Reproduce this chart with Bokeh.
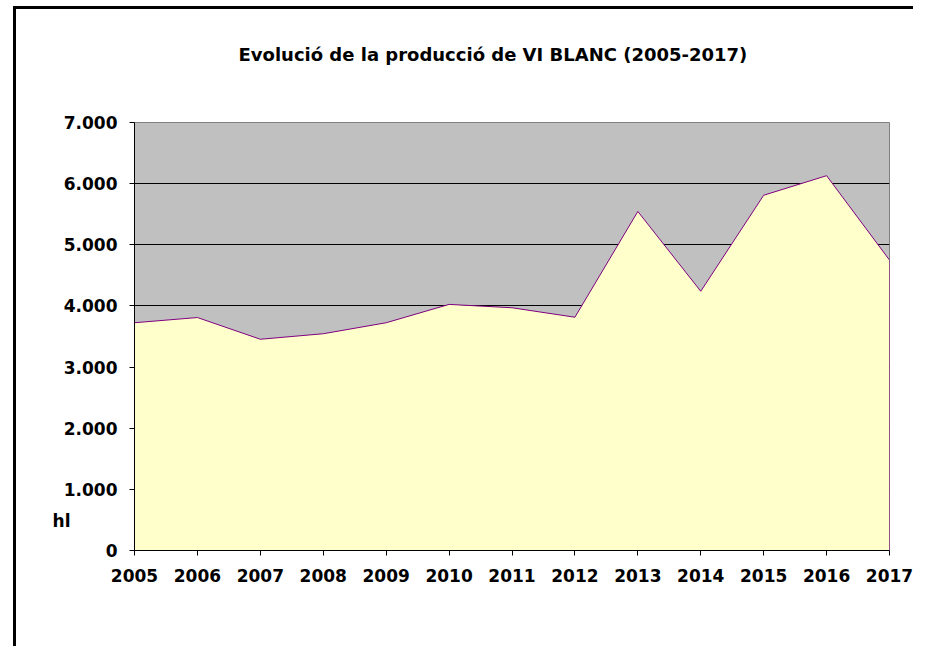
from bokeh.plotting import figure
from bokeh.models import Range1d, FixedTicker, LinearAxis, Title
from bokeh.embed import file_html
from bokeh.resources import INLINE

years = [2005, 2006, 2007, 2008, 2009, 2010, 2011, 2012, 2013, 2014, 2015, 2016, 2017]
production_hl = [3725, 3810, 3455, 3545, 3725, 4025, 3970, 3815, 5545, 4240, 5810, 6130, 4750]
y_ticks = [0, 1000, 2000, 3000, 4000, 5000, 6000, 7000]
y_tick_labels = ["0", "1.000", "2.000", "3.000", "4.000", "5.000", "6.000", "7.000"]
title_text = "Evolució de la producció de VI BLANC (2005-2017)"
unit_text = "hl"
unit_label_at = 480

W, H = 900, 640
p = figure(width=W, height=H, output_backend="svg", toolbar_location=None,
           x_range=Range1d(years[0], years[-1]), y_range=Range1d(y_ticks[0], y_ticks[-1]),
           min_border_left=118, min_border_right=W - 118 - 755, min_border_top=113,
           min_border_bottom=H - 113 - 428)
p.styles = {"margin-left": "13px", "margin-top": "6px",
            "border-left": "3px solid black", "border-top": "3px solid black"}

p.background_fill_color = "#C0C0C0"
p.border_fill_color = "white"
p.outline_line_color = "#808080"
p.outline_line_width = 1

# area polygon built from the data
xs = [years[0]] + years + [years[-1]]
ys = [0] + production_hl + [0]
p.patch(xs, ys, fill_color="#FFFFCC", line_color="#800080", line_width=1)

p.xgrid.visible = False
p.ygrid.grid_line_color = "black"
p.ygrid.grid_line_width = 1
p.ygrid.ticker = FixedTicker(ticks=y_ticks)

font = "DejaVu Sans"
p.yaxis.ticker = FixedTicker(ticks=y_ticks)
p.yaxis.major_label_overrides = {t: l for t, l in zip(y_ticks, y_tick_labels)}
p.xaxis.ticker = FixedTicker(ticks=years)
p.xaxis.major_label_overrides = {y: str(y) for y in years}
for ax in (p.xaxis[0], p.yaxis[0]):
    ax.axis_line_color = "black"
    ax.axis_line_width = 1
    ax.major_tick_line_color = "black"
    ax.major_tick_out = 5
    ax.major_tick_in = 0
    ax.minor_tick_line_color = None
    ax.major_label_text_font = font
    ax.major_label_text_font_style = "bold"
    ax.major_label_text_font_size = "17px"
    ax.major_label_text_color = "black"
p.yaxis.major_label_standoff = 12
p.xaxis.major_label_standoff = 13

# unit text "hl" as a tick-less extra axis next to the value axis
unit_axis = LinearAxis(ticker=FixedTicker(ticks=[unit_label_at]),
                       major_label_overrides={unit_label_at: unit_text},
                       axis_line_color=None, major_tick_line_color=None,
                       minor_tick_line_color=None, major_tick_in=0, major_tick_out=0,
                       major_label_standoff=-10, major_label_text_font=font,
                       major_label_text_font_style="bold", major_label_text_font_size="17px",
                       major_label_text_color="black")
p.add_layout(unit_axis, "left")

# invisible spacer between the frame and the title
spacer = Title(text=" ", text_font_size="1px", standoff=55, text_color="white")
p.add_layout(spacer, "above")

p.title.text = title_text
p.title.align = "left"
p.title.vertical_align = "bottom"
p.title.offset = 104
p.title.standoff = 0
p.title.text_font = font
p.title.text_font_style = "bold"
p.title.text_font_size = "18px"
p.title.text_color = "black"

open("out.html", "w").write(file_html(p, INLINE))
